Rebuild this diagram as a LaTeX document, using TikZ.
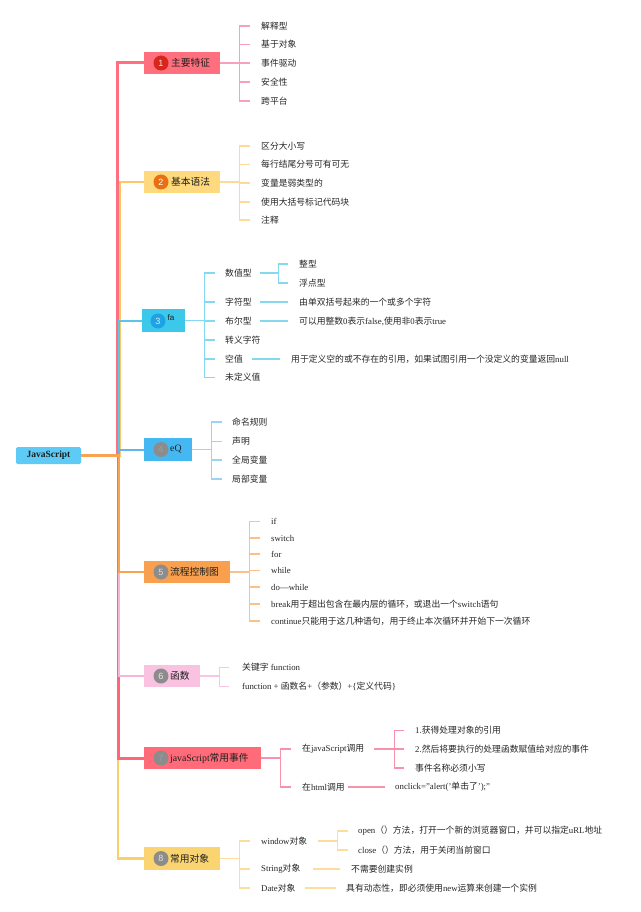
\documentclass[tikz,border=0pt]{standalone}
\usepackage{fontspec}
\setmainfont{Liberation Serif}
\setsansfont{Liberation Sans}
\newfontfamily\cjk{Noto Sans CJK SC}
\XeTeXinterchartokenstate=1
\newXeTeXintercharclass\cjkcls
\newcount\cjkcc
\def\setcjkrange#1#2{\cjkcc=#1 \loop\XeTeXcharclass\cjkcc=\cjkcls\ifnum\cjkcc<#2 \advance\cjkcc by 1 \repeat}
\setcjkrange{"4E00}{"9FFF}
\setcjkrange{"3000}{"303F}
\setcjkrange{"FF00}{"FFEF}
\XeTeXinterchartoks 0 \cjkcls = {\cjk}
\XeTeXinterchartoks 4095 \cjkcls = {\cjk}
\XeTeXinterchartoks \cjkcls 0 = {\rmfamily}
\XeTeXinterchartoks \cjkcls 4095 = {\rmfamily}

\definecolor{txt}{HTML}{262626}
\definecolor{txtd}{HTML}{1E1E1E}
\definecolor{rootf}{HTML}{5DCBF6}
\definecolor{f1}{HTML}{FF6F7D}
\definecolor{f2}{HTML}{FFD97E}
\definecolor{f3}{HTML}{3CC8EA}
\definecolor{f4}{HTML}{45B8F2}
\definecolor{f5}{HTML}{F8A04E}
\definecolor{f6}{HTML}{F9C2E1}
\definecolor{f7}{HTML}{FF6B78}
\definecolor{f8}{HTML}{FBD472}
\definecolor{t1}{HTML}{FF6F7F}
\definecolor{t2}{HTML}{FFC66A}
\definecolor{t3}{HTML}{5CC4E4}
\definecolor{t4}{HTML}{5FB7EE}
\definecolor{t5}{HTML}{F8A352}
\definecolor{t6}{HTML}{F8B4DA}
\definecolor{t7}{HTML}{FF6678}
\definecolor{t8}{HTML}{F9D06A}
\definecolor{c1}{HTML}{F7A1BA}
\definecolor{c2}{HTML}{FFD89C}
\definecolor{c3}{HTML}{84D8EF}
\definecolor{c4}{HTML}{9CD4F4}
\definecolor{c5}{HTML}{FAC28A}
\definecolor{c6}{HTML}{F8C6E2}
\definecolor{c7}{HTML}{F593AD}
\definecolor{c8}{HTML}{FCDD9C}
\definecolor{bg1}{HTML}{D7261C}
\definecolor{bg2}{HTML}{E96F12}
\definecolor{bg3}{HTML}{1DA2E3}
\definecolor{bgg}{HTML}{8C8C8C}

\newcommand\mybracket[4]{% style, parent, tick gap, children
  \coordinate (#2k) at ([xshift=19pt]#2.east);
  \draw[#1] (#2.east) -- (#2k);
  \foreach \cname in {#4} {\draw[#1] (#2k) |- ([xshift=-#3pt]\cname.west);}
}
\newcommand\mysubbracket[6]{% style, parent, start off, bracket off, tick gap, children
  \coordinate (#2k) at ([xshift=#4pt]#2.east);
  \draw[#1] ([xshift=#3pt]#2.east) -- (#2k);
  \foreach \cname in {#6} {\draw[#1] (#2k) |- ([xshift=-#5pt]\cname.west);}
}

\begin{document}
\begin{tikzpicture}[x=1pt,y=-1pt,
  ct/.style={anchor=west,inner sep=0pt,font=\fontsize{8.8}{10}\selectfont,text=txt},
  bbox/.style={rectangle,inner sep=0pt,minimum height=22pt},
  badge/.style={circle,inner sep=0pt,minimum size=15pt,font=\sffamily\fontsize{9}{10}\selectfont},
  blab/.style={anchor=west,inner sep=0pt,font=\fontsize{9.75}{11}\selectfont,text=txtd},
  cl/.style={line width=1.1pt},
]
\fill[white] (0,0) rectangle (640,912);
\useasboundingbox (0,0) rectangle (640,912);

% root
\node[rectangle,rounded corners=1.5pt,fill=rootf,minimum width=65pt,minimum height=17pt,inner sep=0pt,
  font=\bfseries\fontsize{9.5}{10}\selectfont,text=txtd] (root) at (48.5,455.5) {JavaScript};

% branch boxes
\node[bbox,fill=f1,minimum width=76pt] (b1) at (182,63) {};
\node[bbox,fill=f2,minimum width=76pt] (b2) at (182,182) {};
\node[bbox,fill=f3,minimum width=43pt,minimum height=23pt] (b3) at (163.5,320.5) {};
\node[bbox,fill=f4,minimum width=48pt,minimum height=23pt] (b4) at (168,449.5) {};
\node[bbox,fill=f5,minimum width=86pt] (b5) at (187,572) {};
\node[bbox,fill=f6,minimum width=56pt] (b6) at (172,676) {};
\node[bbox,fill=f7,minimum width=117pt] (b7) at (202.5,758) {};
\node[bbox,fill=f8,minimum width=76pt,minimum height=23pt] (b8) at (182,858.5) {};

% badges
\node[badge,fill=bg1,text=white!80!f1] (g1) at (161,63) {1};
\node[badge,fill=bg2,text=white] (g2) at (161,182) {2};
\node[badge,fill=bg3,text=white!85!bg3] (g3) at (158,321) {3};
\node[badge,fill=bgg,text=bgg!85!white] (g4) at (161,449.5) {4};
\node[badge,fill=bgg,text=white!70!bgg] (g5) at (161,572) {5};
\node[badge,fill=bgg,text=white!80!bgg] (g6) at (161,676) {6};
\node[badge,fill=bgg,text=bgg!85!white] (g7) at (161,758) {7};
\node[badge,fill=bgg,text=white!75!bgg] (g8) at (161,858.5) {8};

% branch labels
\node[blab] (l1) at (171,63) {主要特征};
\node[blab] (l2) at (171,182) {基本语法};
\node[anchor=west,inner sep=0pt,font=\sffamily\fontsize{8}{9}\selectfont,text=txtd] (l3) at (167.5,318) {fa};
\node[blab] (l4) at (170,449.5) {eQ};
\node[blab] (l5) at (170,572) {流程控制图};
\node[blab] (l6) at (170,676) {函数};
\node[blab] (l7) at (170,758) {javaScript常用事件};
\node[blab] (l8) at (170,858.5) {常用对象};

% trunk lines
\coordinate (tx1) at (117.5,0);
\coordinate (tx2) at (119.5,0);
\coordinate (tx3) at (118.5,0);
\coordinate (tx4) at (119,0);
\coordinate (tx5) at (119,0);
\coordinate (tx6) at (118.5,0);
\coordinate (tx7) at (118,0);
\coordinate (tx8) at (118,0);
\draw[t1,line width=3pt] (root.east) -- (root.east -| tx1) |- (b1.west);
\draw[t2,line width=2pt] (root.east) -- (root.east -| tx2) |- (b2.west);
\draw[t3,line width=2pt] (root.east) -- (root.east -| tx3) |- (b3.west);
\draw[t4,line width=2pt] (root.east) -- (root.east -| tx4) |- (b4.west);
\draw[t8,line width=2.5pt] (root.east) -- (root.east -| tx8) |- (b8.west);
\draw[t7,line width=3pt] (root.east) -- (root.east -| tx7) |- (b7.west);
\draw[t6,line width=2pt] (root.east) -- (root.east -| tx6) |- (b6.west);
\draw[t5,line width=2.5pt] (root.east) -- (root.east -| tx5) |- (b5.west);

% ---- branch 1
\node[ct] (a1) at (261,26) {解释型};
\node[ct] (a2) at (261,44.5) {基于对象};
\node[ct] (a3) at (261,63) {事件驱动};
\node[ct] (a4) at (261,82) {安全性};
\node[ct] (a5) at (261,101) {跨平台};
\mybracket{cl,c1}{b1}{11}{a1,a2,a3,a4,a5}

% ---- branch 2
\node[ct] (s1) at (261,146) {区分大小写};
\node[ct] (s2) at (261,164.5) {每行结尾分号可有可无};
\node[ct] (s3) at (261,183) {变量是弱类型的};
\node[ct] (s4) at (261,202) {使用大括号标记代码块};
\node[ct] (s5) at (261,220) {注释};
\mybracket{cl,c2}{b2}{11}{s1,s2,s3,s4,s5}

% ---- branch 3
\node[ct] (d1) at (225,273) {数值型};
\node[ct] (d2) at (225,302) {字符型};
\node[ct] (d3) at (225,321) {布尔型};
\node[ct] (d4) at (225,340) {转义字符};
\node[ct] (d5) at (225,359) {空值};
\node[ct] (d6) at (225,377.5) {未定义值};
\mybracket{cl,c3}{b3}{10}{d1,d2,d3,d4,d5,d6}
\node[ct] (d1a) at (299,264) {整型};
\node[ct] (d1b) at (299,283) {浮点型};
\mysubbracket{cl,c3}{d1}{8}{27}{11}{d1a,d1b}
\node[ct] (d2a) at (299,302) {由单双括号起来的一个或多个字符};
\draw[cl,c3] ([xshift=8pt]d2.east) -- ([xshift=-11pt]d2a.west);
\node[ct] (d3a) at (299,321) {可以用整数0表示false,使用非0表示true};
\draw[cl,c3] ([xshift=8pt]d3.east) -- ([xshift=-11pt]d3a.west);
\node[ct] (d5a) at (291,359) {用于定义空的或不存在的引用，如果试图引用一个没定义的变量返回null};
\draw[cl,c3] ([xshift=9pt]d5.east) -- ([xshift=-11pt]d5a.west);

% ---- branch 4
\node[ct] (q1) at (232,422) {命名规则};
\node[ct] (q2) at (232,441.5) {声明};
\node[ct] (q3) at (232,460) {全局变量};
\node[ct] (q4) at (232,479) {局部变量};
\mybracket{cl,c4}{b4}{10}{q1,q2,q3,q4}

% ---- branch 5
\node[ct] (p1) at (271,521.5) {if};
\node[ct] (p2) at (271,538) {switch};
\node[ct] (p3) at (271,554) {for};
\node[ct] (p4) at (271,570.5) {while};
\node[ct] (p5) at (271,587) {do—while};
\node[ct] (p6) at (271,604) {break用于超出包含在最内层的循环，或退出一个switch语句};
\node[ct] (p7) at (271,621) {continue只能用于这几种语句，用于终止本次循环并开始下一次循环};
\mybracket{cl,c5}{b5}{11}{p1,p2,p3,p4,p5,p6,p7}

% ---- branch 6
\node[ct] (h1) at (242,667.5) {关键字 function};
\node[ct] (h2) at (242,686.5) {function + 函数名+（参数）+\{定义代码\}};
\mybracket{cl,c6}{b6}{13}{h1,h2}

% ---- branch 7
\node[ct] (e1) at (302,749) {在javaScript调用};
\node[ct] (e2) at (302,787) {在html调用};
\mybracket{cl,c7}{b7}{11}{e1,e2}
\node[ct] (e1a) at (415,730.5) {1.获得处理对象的引用};
\node[ct] (e1b) at (415,749) {2.然后将要执行的处理函数赋值给对应的事件};
\node[ct] (e1c) at (415,768) {事件名称必须小写};
\mysubbracket{cl,c7}{e1}{10}{30}{11}{e1a,e1b,e1c}
\node[ct] (e2a) at (395,787) {onclick="alert('单击了');"};
\draw[cl,c7] ([xshift=3pt]e2.east) -- ([xshift=-10pt]e2a.west);

% ---- branch 8
\node[ct] (o1) at (261,841) {window对象};
\node[ct] (o2) at (261,869) {String对象};
\node[ct] (o3) at (261,888) {Date对象};
\mybracket{cl,c8}{b8}{11}{o1,o2,o3}
\node[ct] (o1a) at (358,831) {open（）方法，打开一个新的浏览器窗口，并可以指定uRL地址};
\node[ct] (o1b) at (358,850) {close（）方法，用于关闭当前窗口};
\mysubbracket{cl,c8}{o1}{11}{30}{10}{o1a,o1b}
\node[ct] (o2a) at (351,869) {不需要创建实例};
\draw[cl,c8] ([xshift=12pt]o2.east) -- ([xshift=-11pt]o2a.west);
\node[ct] (o3a) at (346,888) {具有动态性，即必须使用new运算来创建一个实例};
\draw[cl,c8] ([xshift=9pt]o3.east) -- ([xshift=-10pt]o3a.west);
\end{tikzpicture}
\end{document}
